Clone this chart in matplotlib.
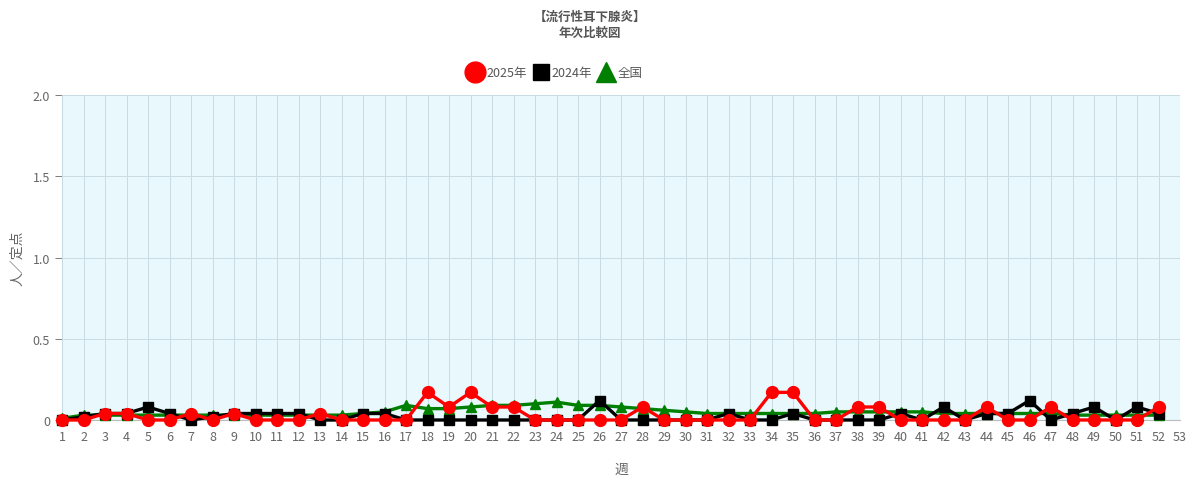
import numpy as np
import matplotlib
matplotlib.use("Agg")
import matplotlib.pyplot as plt

plt.rcParams['font.family'] = ['Noto Sans CJK JP', 'DejaVu Sans']

weeks = list(range(1, 53))

# 2025年 (人/定点)
y2025 = [0, 0, 0.04, 0.04, 0, 0, 0.04, 0, 0.04, 0,
         0, 0, 0.04, 0, 0, 0, 0, 0.17, 0.08, 0.17,
         0.08, 0.08, 0, 0, 0, 0, 0, 0.08, 0, 0,
         0, 0, 0, 0.17, 0.17, 0, 0, 0.08, 0.08, 0,
         0, 0, 0, 0.08, 0, 0, 0.08, 0, 0, 0,
         0, 0.08]

# 2024年
y2024 = [0, 0.02, 0.04, 0.04, 0.08, 0.04, 0, 0.02, 0.04, 0.04,
         0.04, 0.04, 0, 0, 0.04, 0.04, 0, 0, 0, 0,
         0, 0, 0, 0, 0, 0.12, 0, 0, 0, 0,
         0, 0.04, 0, 0, 0.04, 0, 0, 0, 0, 0.04,
         0, 0.08, 0, 0.04, 0.04, 0.12, 0, 0.04, 0.08, 0,
         0.08, 0.04]

# 全国
y_nat = [0.01, 0.03, 0.03, 0.03, 0.03, 0.03, 0.03, 0.03, 0.03, 0.03,
         0.03, 0.03, 0.03, 0.03, 0.04, 0.05, 0.09, 0.07, 0.07, 0.08,
         0.09, 0.09, 0.10, 0.11, 0.09, 0.09, 0.08, 0.07, 0.06, 0.05,
         0.04, 0.04, 0.04, 0.04, 0.04, 0.04, 0.05, 0.05, 0.05, 0.05,
         0.05, 0.04, 0.04, 0.04, 0.04, 0.04, 0.04, 0.03, 0.03, 0.03,
         0.03, 0.03]

xticks = list(range(1, 54))
yticks = [0, 0.5, 1.0, 1.5, 2.0]
ytick_labels = ["0", "0.5", "1.0", "1.5", "2.0"]

fig = plt.figure(figsize=(11.96, 4.81), dpi=100)
ax = fig.add_axes([62 / 1196, 1 - 421 / 481, (1180 - 62) / 1196, (421 - 96) / 481])
ax.set_facecolor("#e8f8fd")

ax.plot(weeks, y_nat, color="#008000", lw=2.4, marker="^", ms=7, zorder=3, clip_on=False)
ax.plot(weeks, y2024, color="#000000", lw=2.4, marker="s", ms=6.5, zorder=4, clip_on=False)
ax.plot(weeks, y2025, color="#ff0000", lw=2.4, marker="o", ms=8.5, zorder=5, clip_on=False)

ax.set_xlim(1, 53)
ax.set_ylim(0, 2.0)
ax.set_xticks(xticks)
ax.set_yticks(yticks)
ax.set_yticklabels(ytick_labels)
ax.tick_params(axis="both", labelsize=9, colors="#666666", length=5, width=0.6)
ax.tick_params(axis="x", length=0, pad=7)
ax.grid(True, color="#c9dce3", lw=0.7)
for s in ["top", "right"]:
    ax.spines[s].set_visible(False)
ax.spines["left"].set_color("#c9dce3")
ax.spines["bottom"].set_color("#bbbbbb")

ax.set_xlabel("週", fontsize=10, color="#666666", labelpad=14)
ax.set_ylabel("人／定点", fontsize=10, color="#666666", labelpad=6)

fig.text(590 / 1196, 1 - 17 / 481, "【流行性耳下腺炎】", ha="center", va="center",
         fontsize=9, fontweight="bold", color="#555555")
fig.text(590 / 1196, 1 - 33 / 481, "年次比較図", ha="center", va="center",
         fontsize=9, fontweight="bold", color="#555555")

handles = [
    plt.Line2D([], [], ls="none", marker="o", ms=15, color="#ff0000"),
    plt.Line2D([], [], ls="none", marker="s", ms=11, color="#000000"),
    plt.Line2D([], [], ls="none", marker="^", ms=14, color="#008000"),
]
fig.legend(handles, ["2025年", "2024年", "全国"], loc="center",
           bbox_to_anchor=(555 / 1196, 1 - 74 / 481), ncol=3, frameon=False,
           fontsize=9, labelcolor="#555555", handletextpad=0.3, columnspacing=0.5,
           handlelength=1.2)

fig.savefig("out.png", dpi=100)
